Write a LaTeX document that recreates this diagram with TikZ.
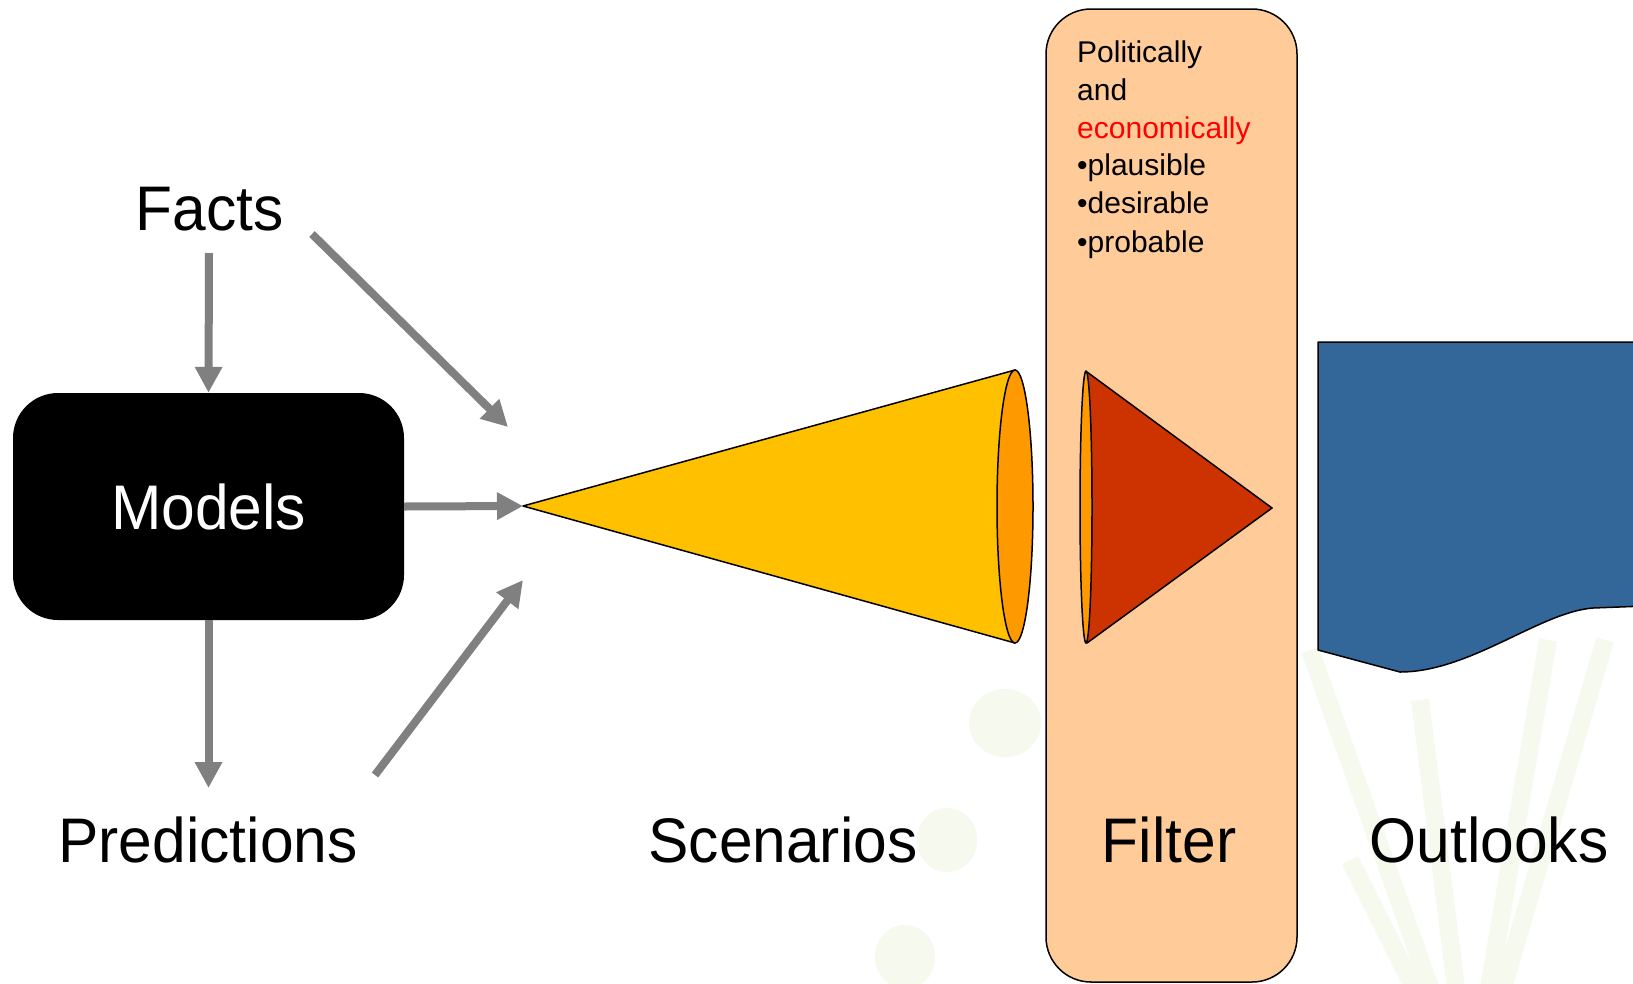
\documentclass[tikz,border=0pt]{standalone}
\usepackage{fontspec}
\setmainfont{Liberation Sans}
\newfontfamily\bigfont[FakeStretch=0.96]{Liberation Sans}
\usetikzlibrary{arrows.meta}
\definecolor{arrowgray}{HTML}{808080}
\definecolor{coneyellow}{HTML}{FFC000}
\definecolor{coneorange}{HTML}{FF9900}
\definecolor{conered}{HTML}{CC3300}
\definecolor{filterpeach}{HTML}{FFCC99}
\definecolor{outlookblue}{HTML}{336699}
\definecolor{wmgreen}{HTML}{F6F9EE}
\begin{document}
\begin{tikzpicture}[x=1pt,y=-1pt,
  biglabel/.style={font=\bigfont\fontsize{63}{70}\selectfont, inner sep=0pt, anchor=base},
  flow/.style={draw=arrowgray, line width=8pt, -{Triangle[length=26pt,width=26pt]}},
  filtertext/.style={font=\fontsize{30}{38}\selectfont, anchor=base west, inner sep=0pt},
  outline/.style={draw=black, line width=1.5pt, line join=round},
  watermark/.style={fill=wmgreen, draw=none},
  wmray/.style={draw=wmgreen, line width=18pt}
]
\clip (0,0) rectangle (1633,983);
\fill[white] (0,0) rectangle (1633,983);
% faint background watermark
\draw[wmray] (1470,1100) -- (1310,650);
\draw[wmray] (1470,1100) -- (1350,860);
\draw[wmray] (1470,1100) -- (1548,640);
\draw[wmray] (1470,1100) -- (1605,640);
\draw[wmray] (1470,1100) -- (1420,700);
\fill[watermark] (1005,723) ellipse (36pt and 34pt);
\fill[watermark] (947,840) ellipse (30pt and 32pt);
\fill[watermark] (905,957) ellipse (30pt and 32pt);

% filter band
\node[fill=filterpeach, outline, rounded corners=45pt, minimum width=251pt,
      minimum height=973pt, inner sep=0pt] (filter) at (1171.5,495.5) {};

% models box
\node[fill=black, rounded corners=45pt, minimum width=391pt, minimum height=227pt,
      inner sep=0pt, text=white, font=\bigfont\fontsize{63}{70}\selectfont]
      (models) at (208.5,506.5) {Models};

% labels
\node[biglabel] (facts) at (209.5,230) {Facts};
\node[biglabel] (predictions) at (208,862) {Predictions};
\node[biglabel] (scenarios) at (783,862) {Scenarios};
\node[biglabel] (filterlabel) at (1169,862) {Filter};
\node[biglabel] (outlooks) at (1489,862) {Outlooks};

% filter text
\node[filtertext] (ft1) at (1077,62) {Politically};
\node[filtertext] (ft2) at (1077,100) {and};
\node[filtertext, text=red] (ft3) at (1077,138) {economically};
\node[filtertext] (ft4) at (1077,175) {•plausible};
\node[filtertext] (ft5) at (1077,213) {•desirable};
\node[filtertext] (ft6) at (1077,252) {•probable};

% outlooks shape
\path[fill=outlookblue, outline] (1318,342) -- (1645,342) -- (1645,606) -- (1593,608)
  .. controls (1540,612) and (1470,672) .. (1400,672) -- (1318,650) -- cycle;

% yellow cone (scenarios)
\coordinate (apex) at (523,506);
\path[fill=coneyellow, outline] (apex) -- (1015,370) -- (1015,643) -- cycle;
\path[fill=coneorange, outline] (1015,506.5) ellipse (18pt and 136.5pt);

% red cone (filter)
\path[fill=conered, outline] (1087,372) -- (1272,508) -- (1087,643) -- cycle;
\path[fill=coneorange, outline] (1086,507) ellipse (6pt and 136pt);

% connectors
\coordinate (factsdown) at (209,253);
\coordinate (factsdiag) at (312,234);
\coordinate (tipA) at (508,427);
\coordinate (tipB) at (523,506);
\coordinate (tipC) at (523,580);
\coordinate (predtip) at (208.5,788);
\coordinate (preddiag) at (375,775);
\draw[flow] (factsdown) -- (models.north);
\draw[flow] (factsdiag) -- (tipA);
\draw[flow] (models.east) -- (tipB);
\draw[flow] (models.south) -- (predtip);
\draw[flow] (preddiag) -- (tipC);
\end{tikzpicture}
\end{document}
